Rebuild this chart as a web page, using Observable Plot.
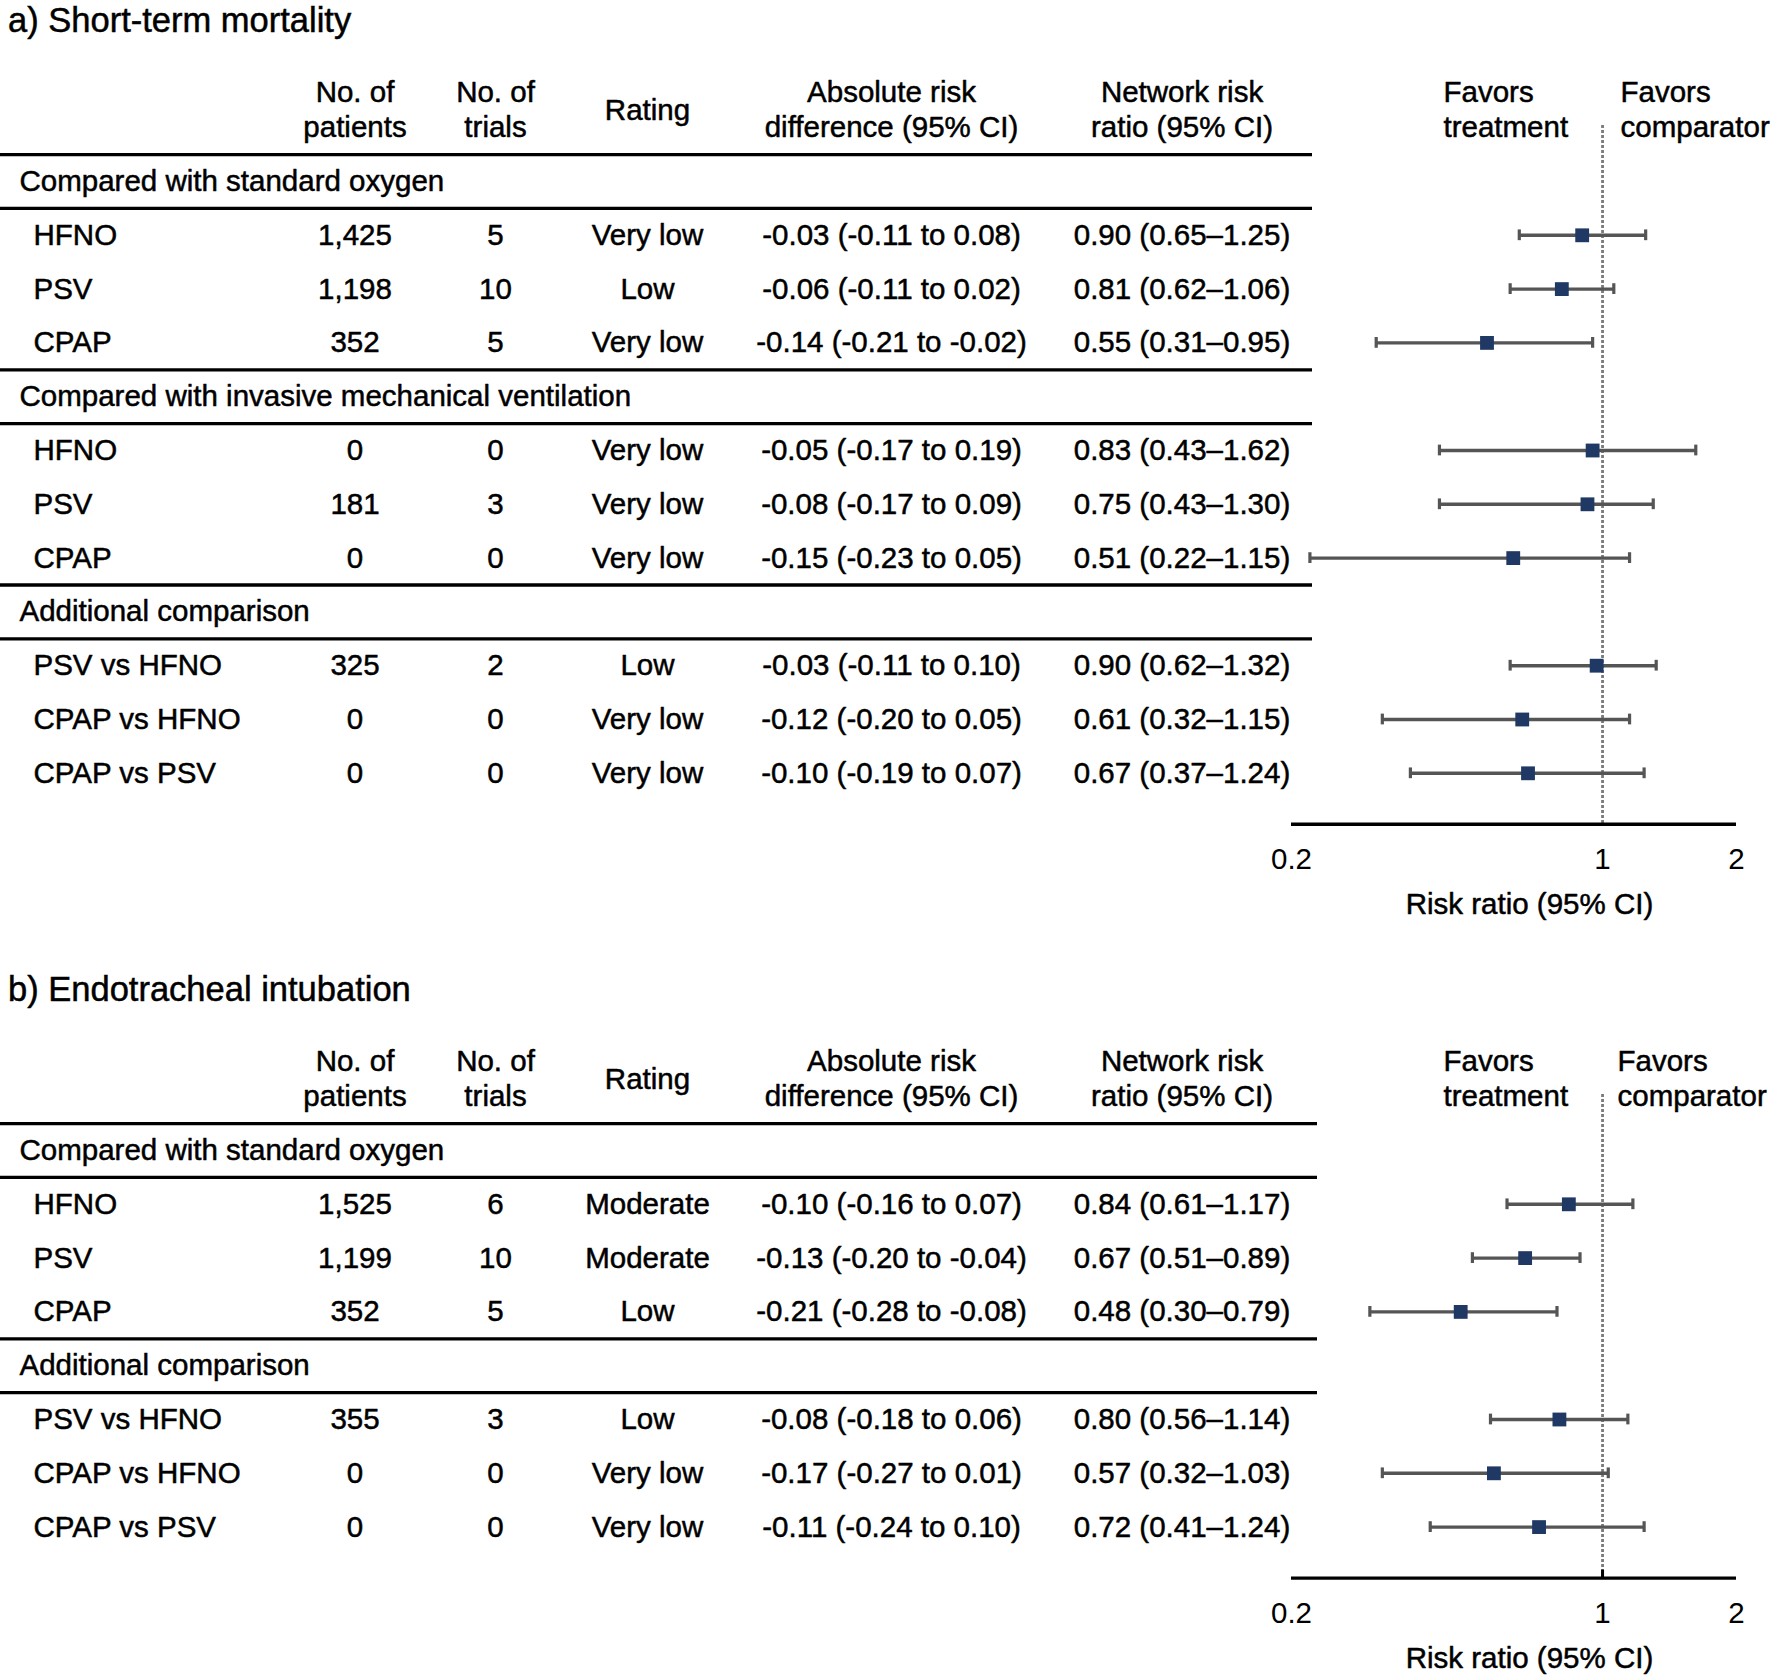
<!DOCTYPE html>
<html>
<head>
<meta charset="utf-8">
<script src="https://cdn.jsdelivr.net/npm/d3@7"></script>
<script src="https://cdn.jsdelivr.net/npm/@observablehq/plot@0.6"></script>
<style>
  body { margin: 0; background: #fff; font-family: "Liberation Sans", Arial, sans-serif; color: #000; }
  .panel { position: relative; width: 1776px; }
  .title { height: 40px; line-height: 40px; font-size: 34.5px; padding-left: 8px; white-space: nowrap; -webkit-text-stroke: 0.5px #000; }
  svg { display: block; }
</style>
</head>
<body>
<div id="panelA" class="panel"><div class="title">a) Short-term mortality</div></div>
<div id="panelB" class="panel"><div class="title">b) Endotracheal intubation</div></div>
<script>
// ---------------- Data: a) Short-term mortality ----------------
const groupsA = ["Compared with standard oxygen", "Compared with invasive mechanical ventilation", "Additional comparison"];
const groupOfA = [0, 0, 0, 1, 1, 1, 2, 2, 2];
const labelsA = ["HFNO", "PSV", "CPAP", "HFNO", "PSV", "CPAP", "PSV vs HFNO", "CPAP vs HFNO", "CPAP vs PSV"];
const patientsA = ["1,425", "1,198", "352", "0", "181", "0", "325", "0", "0"];
const trialsA = ["5", "10", "5", "0", "3", "0", "2", "0", "0"];
const ratingA = ["Very low", "Low", "Very low", "Very low", "Very low", "Very low", "Low", "Very low", "Very low"];
const ardA = ["-0.03 (-0.11 to 0.08)", "-0.06 (-0.11 to 0.02)", "-0.14 (-0.21 to -0.02)",
              "-0.05 (-0.17 to 0.19)", "-0.08 (-0.17 to 0.09)", "-0.15 (-0.23 to 0.05)",
              "-0.03 (-0.11 to 0.10)", "-0.12 (-0.20 to 0.05)", "-0.10 (-0.19 to 0.07)"];
const rrA = [0.90, 0.81, 0.55, 0.83, 0.75, 0.51, 0.90, 0.61, 0.67];
const loA = [0.65, 0.62, 0.31, 0.43, 0.43, 0.22, 0.62, 0.32, 0.37];
const hiA = [1.25, 1.06, 0.95, 1.62, 1.30, 1.15, 1.32, 1.15, 1.24];
// square positions as drawn in the figure
const markA = [0.90, 0.81, 0.55, 0.95, 0.925, 0.63, 0.97, 0.66, 0.68];

// ---------------- Data: b) Endotracheal intubation ----------------
const groupsB = ["Compared with standard oxygen", "Additional comparison"];
const groupOfB = [0, 0, 0, 1, 1, 1];
const labelsB = ["HFNO", "PSV", "CPAP", "PSV vs HFNO", "CPAP vs HFNO", "CPAP vs PSV"];
const patientsB = ["1,525", "1,199", "352", "355", "0", "0"];
const trialsB = ["6", "10", "5", "3", "0", "0"];
const ratingB = ["Moderate", "Moderate", "Low", "Low", "Very low", "Very low"];
const ardB = ["-0.10 (-0.16 to 0.07)", "-0.13 (-0.20 to -0.04)", "-0.21 (-0.28 to -0.08)",
              "-0.08 (-0.18 to 0.06)", "-0.17 (-0.27 to 0.01)", "-0.11 (-0.24 to 0.10)"];
const rrB = [0.84, 0.67, 0.48, 0.80, 0.57, 0.72];
const loB = [0.61, 0.51, 0.30, 0.56, 0.32, 0.41];
const hiB = [1.17, 0.89, 0.79, 1.14, 1.03, 1.24];
const markB = [0.84, 0.67, 0.48, 0.80, 0.57, 0.72];

// ---------------- Header / axis text ----------------
const colHeaders = ["No. of\npatients", "No. of\ntrials", "Rating", "Absolute risk\ndifference (95% CI)", "Network risk\nratio (95% CI)"];
const favorsLabels = ["Favors\ntreatment", "Favors\ncomparator"];
const xTicks = [0.2, 1, 2];
const axisTitle = "Risk ratio (95% CI)";

// ---------------- Layout (pixels) ----------------
const FS = 29.5;
const ROW0 = 141, ROW_H = 53.8;
const COLS = [354.5, 495, 647, 891, 1181.5];
const HEAD_Y = 68;
const fmt = v => v.toFixed(2);

function build(groups, groupOf, labels, patients, trials, rating, ard, rr, lo, hi, mark) {
  const rows = [], heads = [], rules = [-0.5];
  let s = 0;
  groups.forEach((g, gi) => {
    if (gi > 0) rules.push(s - 0.5);
    heads.push({slot: s, text: g});
    rules.push(s + 0.5);
    s++;
    labels.forEach((l, i) => {
      if (groupOf[i] !== gi) return;
      rows.push({
        slot: s, label: l, patients: patients[i], trials: trials[i], rating: rating[i], ard: ard[i],
        rrText: `${fmt(rr[i])} (${fmt(lo[i])}\u2013${fmt(hi[i])})`,
        lo: lo[i], hi: hi[i], est: mark[i]
      });
      s++;
    });
  });
  return {rows, heads, rules, n: s};
}

function panel(el, d, opt) {
  const H = opt.height;
  const lastY = ROW0 + (d.n - 1) * ROW_H;
  const axisY = lastY + 51;
  const slotOf = py => (py - ROW0) / ROW_H;
  const axisSlot = slotOf(axisY);
  const txt = {fontSize: FS, fill: "black", stroke: "black", strokeWidth: 0.5};
  const head = {...txt, frameAnchor: "top-left", dy: HEAD_Y, lineAnchor: "middle", textAnchor: "middle", lineHeight: 1.18, text: v => v};
  const cell = {...txt, y: "slot", frameAnchor: "left", textAnchor: "middle", lineAnchor: "middle"};
  const gray = "#555555";
  const marks = [
    // table rules
    Plot.ruleY(d.rules, {y: v => v, stroke: "black", strokeWidth: 3.3}),
    // column headers
    Plot.text([colHeaders[0]], {...head, dx: COLS[0]}),
    Plot.text([colHeaders[1]], {...head, dx: COLS[1]}),
    Plot.text([colHeaders[2]], {...head, dx: COLS[2]}),
    Plot.text([colHeaders[3]], {...head, dx: COLS[3]}),
    Plot.text([colHeaders[4]], {...head, dx: COLS[4]}),
    Plot.text([favorsLabels[0]], {...head, dx: 1443, textAnchor: "start"}),
    Plot.text([favorsLabels[1]], {...head, dx: opt.favX, textAnchor: "start"}),
    // group headers and rows
    Plot.text(d.heads, {...cell, text: "text", dx: 19, textAnchor: "start"}),
    Plot.text(d.rows, {...cell, text: "label", dx: 33, textAnchor: "start"}),
    Plot.text(d.rows, {...cell, text: "patients", dx: COLS[0]}),
    Plot.text(d.rows, {...cell, text: "trials", dx: COLS[1]}),
    Plot.text(d.rows, {...cell, text: "rating", dx: COLS[2]}),
    Plot.text(d.rows, {...cell, text: "ard", dx: COLS[3]}),
    Plot.text(d.rows, {...cell, text: "rrText", dx: COLS[4]}),
    // reference line at RR = 1
    Plot.ruleX([1], {y1: slotOf(85), y2: axisSlot, stroke: "#7a7a7a", strokeWidth: 2.8, strokeDasharray: "3,2"}),
    // confidence intervals with caps
    Plot.ruleY(d.rows, {y: "slot", x1: "lo", x2: "hi", stroke: gray, strokeWidth: 3.4}),
    Plot.ruleX(d.rows, {x: "lo", y1: r => r.slot - 0.1, y2: r => r.slot + 0.1, stroke: gray, strokeWidth: 3.2}),
    Plot.ruleX(d.rows, {x: "hi", y1: r => r.slot - 0.1, y2: r => r.slot + 0.1, stroke: gray, strokeWidth: 3.2}),
    // point estimates
    Plot.dot(d.rows, {x: "est", y: "slot", symbol: "square", r: 7.8, fill: "#1f3864"}),
    // x axis
    Plot.ruleY([axisSlot], {y: v => v, x1: 0.2, x2: 2, stroke: "black", strokeWidth: 3.4}),
    Plot.axisX({ticks: xTicks, tickFormat: v => String(v), tickSize: 0, tickPadding: 24, fontSize: FS, stroke: "black", strokeWidth: 0.5, label: null}),
    Plot.text([axisTitle], {...txt, frameAnchor: "bottom-left", dx: 1529, dy: 80, textAnchor: "middle", lineAnchor: "middle", text: v => v})
  ];
  if (opt.tickAtOne) {
    marks.push(Plot.ruleX([1], {y1: slotOf(axisY - 8), y2: axisSlot, stroke: "black", strokeWidth: 3}));
  }
  const chart = Plot.plot({
    width: 1776,
    height: H,
    marginLeft: 0,
    marginRight: 1776 - opt.ruleEnd,
    marginTop: 0,
    marginBottom: H - axisY,
    x: {type: "log", domain: [0.2, 2], range: [1291, 1736]},
    y: {type: "linear", domain: [0, d.n - 1], range: [ROW0, lastY], axis: null},
    style: {fontFamily: "'Liberation Sans', Arial, sans-serif", fontSize: FS + "px", background: "white", color: "black", overflow: "visible"},
    marks
  });
  document.getElementById(el).appendChild(chart);
}

const dataA = build(groupsA, groupOfA, labelsA, patientsA, trialsA, ratingA, ardA, rrA, loA, hiA, markA);
const dataB = build(groupsB, groupOfB, labelsB, patientsB, trialsB, ratingB, ardB, rrB, loB, hiB, markB);
panel("panelA", dataA, {height: 929, ruleEnd: 1312, favX: 1620, tickAtOne: false});
panel("panelB", dataB, {height: 667, ruleEnd: 1317, favX: 1617, tickAtOne: true});
</script>
</body>
</html>
